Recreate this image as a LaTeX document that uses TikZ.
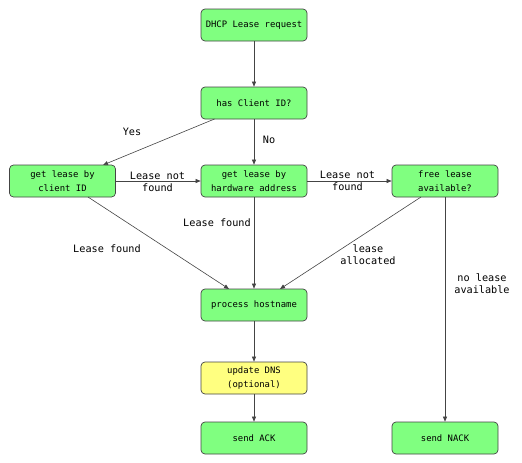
\documentclass[tikz,border=0pt]{standalone}
\usepackage{fontspec}
\setmonofont{DejaVu Sans Mono}
\usetikzlibrary{arrows.meta}
\definecolor{boxgreen}{HTML}{80FF80}
\definecolor{boxyellow}{HTML}{FFFF80}
\definecolor{edgecol}{HTML}{444444}
\begin{document}
\begin{tikzpicture}[x=1pt,y=-1pt,
  box/.style={draw=edgecol, line width=0.7pt, fill=boxgreen, rounded corners=4pt,
    minimum width=106pt, minimum height=32pt, inner sep=1pt, align=center,
    font=\ttfamily\fontsize{8.9}{13.5}\selectfont},
  ybox/.style={box, fill=boxyellow},
  conn/.style={draw=edgecol, line width=0.6pt, -{Triangle[length=5pt,width=4pt]}},
  lbl/.style={font=\ttfamily\fontsize{10.2}{12.3}\selectfont, align=center, inner sep=1pt}]
\useasboundingbox (0,0) rectangle (522,463);
\node[box] (req) at (254,25) {DHCP Lease request};
\node[box] (has) at (254,103) {has Client ID?};
\node[box] (cli) at (62.5,181) {get lease by\\client ID};
\node[box] (hw) at (254,181) {get lease by\\hardware address};
\node[box] (free) at (445,181) {free lease\\available?};
\node[box] (proc) at (254,305) {process hostname};
\node[ybox] (dns) at (254,378) {update DNS\\(optional)};
\node[box] (ack) at (254,438) {send ACK};
\node[box] (nack) at (445,438) {send NACK};

\coordinate (hasL) at (214.5,119);
\coordinate (cliT) at (103,165);
\coordinate (cliB) at (88,197);
\coordinate (procL) at (229,289);
\coordinate (freeB) at (421,197);
\coordinate (procR) at (280,289);

\draw[conn] (req) -- (has);
\draw[conn] (hasL) -- (cliT);
\draw[conn] (has) -- (hw);
\draw[conn] (cli) -- (hw);
\draw[conn] (hw) -- (free);
\draw[conn] (cliB) -- (procL);
\draw[conn] (hw) -- (proc);
\draw[conn] (freeB) -- (procR);
\draw[conn] (free) -- (nack);
\draw[conn] (proc) -- (dns);
\draw[conn] (dns) -- (ack);

\node[lbl] (lyes) at (132,132) {Yes};
\node[lbl] (lno) at (269,139.5) {No};
\node[lbl] (lnf1) at (157.5,182) {Lease not\\found};
\node[lbl] (lnf2) at (347.5,181) {Lease not\\found};
\node[lbl] (lf1) at (107,249) {Lease found};
\node[lbl] (lf2) at (217,223) {Lease found};
\node[lbl] (lalloc) at (368,255) {lease\\allocated};
\node[lbl] (lnone) at (482,283.5) {no lease\\available};
\end{tikzpicture}
\end{document}
